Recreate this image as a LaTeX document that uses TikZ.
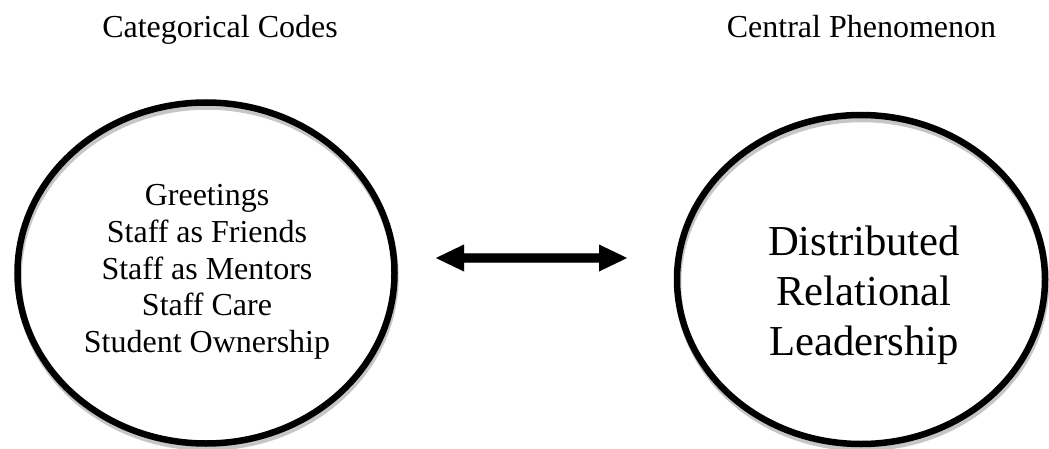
\documentclass[tikz,border=0pt]{standalone}
\usepackage{fontspec}
\setmainfont{Liberation Serif}
\usetikzlibrary{shapes.geometric,calc}

\tikzset{
  ring/.style={ellipse, draw=black, line width=6.5pt, inner sep=0pt},
  ringshadow/.style={draw=gray!45, line width=6.5pt},
  title/.style={font=\fontsize{32}{36.8}\selectfont, anchor=base},
  codes/.style={font=\fontsize{32}{36.8}\selectfont, align=center, inner sep=0pt},
  phen/.style={font=\fontsize{42.67}{50}\selectfont, align=center, inner sep=0pt},
  bigarrow/.style={fill=black},
  arrowshadow/.style={fill=gray!45},
}

\begin{document}
\begin{tikzpicture}[x=1pt, y=1pt]
  \useasboundingbox (0,0) rectangle (1049,448);

  % column titles
  \node[title] (t1) at (220,410) {Categorical Codes};
  \node[title] (t2) at (861.5,410) {Central Phenomenon};

  % soft shadows under the two rings
  \draw[ringshadow] (207,171) ellipse [x radius=188.5, y radius=170.5];
  \draw[ringshadow] (862,164.5) ellipse [x radius=184, y radius=164.5];

  % the two rings
  \node[ring, minimum width=377pt, minimum height=341pt] (codesring) at (206,175) {};
  \node[ring, minimum width=368pt, minimum height=329pt] (phenring) at (861,168.5) {};

  % texts inside the rings
  \node[codes] (codes) at (207,176)
    {Greetings\\Staff as Friends\\Staff as Mentors\\Staff Care\\Student Ownership};
  \node[phen] (phen) at (864,153)
    {Distributed\\Relational\\Leadership};

  % double-headed block arrow between the rings
  \coordinate (la) at (436,190);
  \coordinate (ra) at (627,190);
  \foreach \sx/\sy/\st in {1/-4/arrowshadow, 0/0/bigarrow} {
    \fill[\st, shift={(\sx,\sy)}]
      (la)
      -- ($(la)+(28,13.5)$) -- ($(la)+(28,4.7)$)
      -- ($(ra)+(-28,4.7)$) -- ($(ra)+(-28,13.5)$)
      -- (ra)
      -- ($(ra)+(-28,-13.5)$) -- ($(ra)+(-28,-4.7)$)
      -- ($(la)+(28,-4.7)$) -- ($(la)+(28,-13.5)$)
      -- cycle;
  }
\end{tikzpicture}
\end{document}
